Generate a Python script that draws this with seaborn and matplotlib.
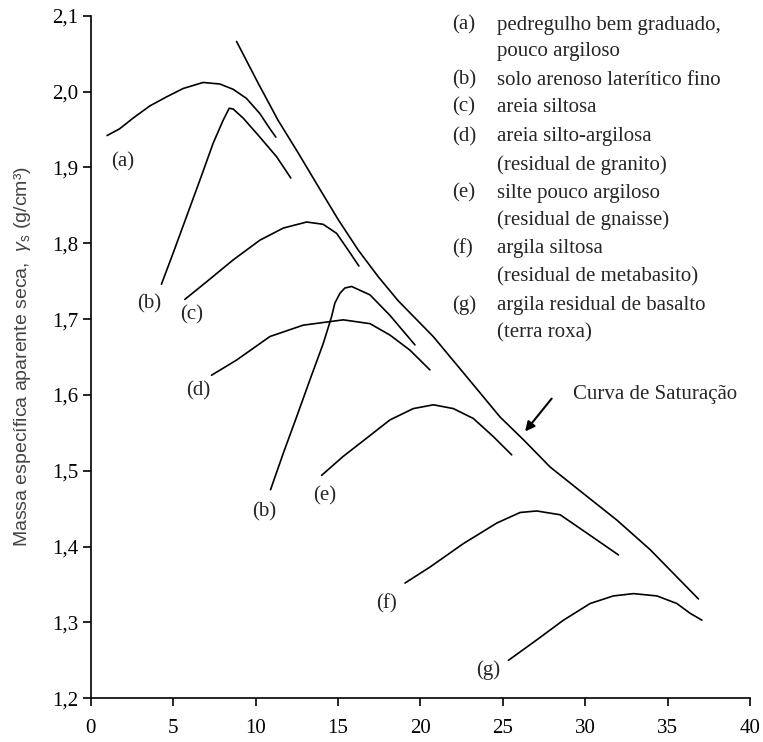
import matplotlib
matplotlib.use("Agg")
import matplotlib.pyplot as plt
import seaborn as sns
import pandas as pd

# ---- data ----
sat_w = [8.85, 10.16, 11.37, 12.59, 13.80, 15.02, 16.23, 17.44, 18.66, 20.78, 22.81,
         24.83, 26.25, 27.87, 29.89, 31.92, 33.94, 36.87]
sat_rho = [2.066, 2.011, 1.962, 1.919, 1.875, 1.831, 1.791, 1.756, 1.724, 1.677, 1.624,
           1.571, 1.541, 1.505, 1.470, 1.435, 1.396, 1.331]

a_w = [0.99, 1.76, 2.57, 3.58, 4.60, 5.60, 6.82, 7.83, 8.64, 9.45, 10.26, 10.87, 11.23]
a_rho = [1.942, 1.951, 1.965, 1.981, 1.993, 2.004, 2.012, 2.010, 2.003, 1.991, 1.971, 1.951, 1.940]

b1_w = [4.29, 5.00, 5.81, 6.62, 7.43, 8.03, 8.40, 8.64, 9.25, 10.26, 11.28, 12.14]
b1_rho = [1.746, 1.787, 1.835, 1.883, 1.932, 1.962, 1.978, 1.977, 1.965, 1.940, 1.914, 1.886]

c_w = [5.71, 7.02, 8.64, 10.26, 11.68, 13.10, 14.10, 14.92, 15.62, 16.27]
c_rho = [1.726, 1.749, 1.778, 1.804, 1.820, 1.828, 1.825, 1.813, 1.791, 1.770]

d_w = [7.33, 8.85, 10.87, 12.89, 15.32, 16.94, 18.15, 19.37, 20.58]
d_rho = [1.626, 1.646, 1.677, 1.692, 1.699, 1.694, 1.679, 1.659, 1.633]

b2_w = [10.91, 11.68, 12.49, 13.30, 14.11, 14.61, 14.81, 15.12, 15.42, 15.83, 16.94, 18.15, 19.67]
b2_rho = [1.475, 1.523, 1.571, 1.620, 1.668, 1.703, 1.721, 1.734, 1.741, 1.743, 1.732, 1.705, 1.666]

e_w = [14.01, 15.32, 16.74, 18.15, 19.57, 20.79, 22.00, 23.21, 24.43, 25.54]
e_rho = [1.494, 1.519, 1.543, 1.567, 1.582, 1.587, 1.582, 1.569, 1.545, 1.521]

f_w = [19.07, 20.58, 22.61, 24.63, 26.05, 27.06, 28.48, 30.09, 32.02]
f_rho = [1.352, 1.373, 1.404, 1.431, 1.445, 1.447, 1.442, 1.418, 1.389]

g_w = [25.34, 27.06, 28.68, 30.30, 31.71, 32.93, 34.35, 35.56, 36.37, 37.08]
g_rho = [1.250, 1.277, 1.303, 1.325, 1.335, 1.338, 1.335, 1.325, 1.312, 1.303]

curve_labels = ["(a)", "(b)", "(c)", "(d)", "(b)", "(e)", "(f)", "(g)"]
curve_label_w = [1.96, 3.54, 6.11, 6.52, 10.52, 14.21, 17.95, 24.12]
curve_label_rho = [1.907, 1.720, 1.705, 1.606, 1.446, 1.467, 1.325, 1.237]

legend_keys = ["(a)", "", "(b)", "(c)", "(d)", "", "(e)", "", "(f)", "", "(g)", ""]
legend_texts = ["pedregulho bem graduado,", "pouco argiloso",
                "solo arenoso laterítico fino",
                "areia siltosa",
                "areia silto-argilosa", "(residual de granito)",
                "silte pouco argiloso", "(residual de gnaisse)",
                "argila siltosa", "(residual de metabasito)",
                "argila residual de basalto", "(terra roxa)"]

x_ticks = [0, 5, 10, 15, 20, 25, 30, 35, 40]
y_ticks = [1.2, 1.3, 1.4, 1.5, 1.6, 1.7, 1.8, 1.9, 2.0, 2.1]
y_ticklabels = ["1,2", "1,3", "1,4", "1,5", "1,6", "1,7", "1,8", "1,9", "2,0", "2,1"]

# ---- plot ----
sns.set_style("ticks")
plt.rcParams["font.family"] = ["Liberation Serif", "DejaVu Serif"]
plt.rcParams["mathtext.fontset"] = "custom"
plt.rcParams["mathtext.rm"] = "Liberation Sans"
plt.rcParams["mathtext.it"] = "Liberation Sans:italic"

FS = 15

fig = plt.figure(figsize=(7.63, 7.42), dpi=100)
ax = fig.add_axes([0.1189, 0.0589, 0.8641, 0.9199])

series = [(sat_w, sat_rho), (a_w, a_rho), (b1_w, b1_rho), (c_w, c_rho), (d_w, d_rho),
          (b2_w, b2_rho), (e_w, e_rho), (f_w, f_rho), (g_w, g_rho)]
for w, r in series:
    df = pd.DataFrame({"w": w, "rho": r})
    sns.lineplot(data=df, x="w", y="rho", ax=ax, color="black", lw=1.2,
                 sort=False, estimator=None)

for lab, xw, yr in zip(curve_labels, curve_label_w, curve_label_rho):
    ax.text(xw, yr, lab, ha="center", va="center", fontsize=FS)

leg_y = [2.0877, 2.0525, 2.0152, 1.9792, 1.9404, 1.9031, 1.8658, 1.8306,
         1.7933, 1.7558, 1.7185, 1.6812]
for key, txt, yy in zip(legend_keys, legend_texts, leg_y):
    if key:
        ax.text(21.9, yy, key, ha="left", va="center", fontsize=FS)
    ax.text(24.63, yy, txt, ha="left", va="center", fontsize=FS)

ax.annotate("", xy=(26.25, 1.549), xytext=(28.07, 1.598),
            arrowprops=dict(arrowstyle="-|>", color="black", lw=1.5, mutation_scale=14))
ax.text(29.27, 1.601, "Curva de Saturação", ha="left", va="center", fontsize=FS)

ax.set_xlim(0, 40)
ax.set_ylim(1.2, 2.1)
ax.set_xticks(x_ticks)
ax.set_xticklabels([str(t) for t in x_ticks])
ax.set_yticks(y_ticks)
ax.set_yticklabels(y_ticklabels)
ax.tick_params(axis="both", labelsize=FS, length=6, width=1.2, colors="black")
ax.tick_params(axis="x", pad=9)
ax.tick_params(axis="y", pad=3)
for s in ["left", "bottom"]:
    ax.spines[s].set_linewidth(1.2)
    ax.spines[s].set_color("black")
sns.despine(ax=ax)
ax.set_xlabel("")
ax.set_ylabel("Massa específica aparente seca,  $\\gamma_\\mathrm{s}$ (g/cm³)",
              fontsize=14, color="#444444", family="Liberation Sans")
ax.yaxis.set_label_coords(-0.088, 0.5)

fig.savefig("out.png", dpi=100)
